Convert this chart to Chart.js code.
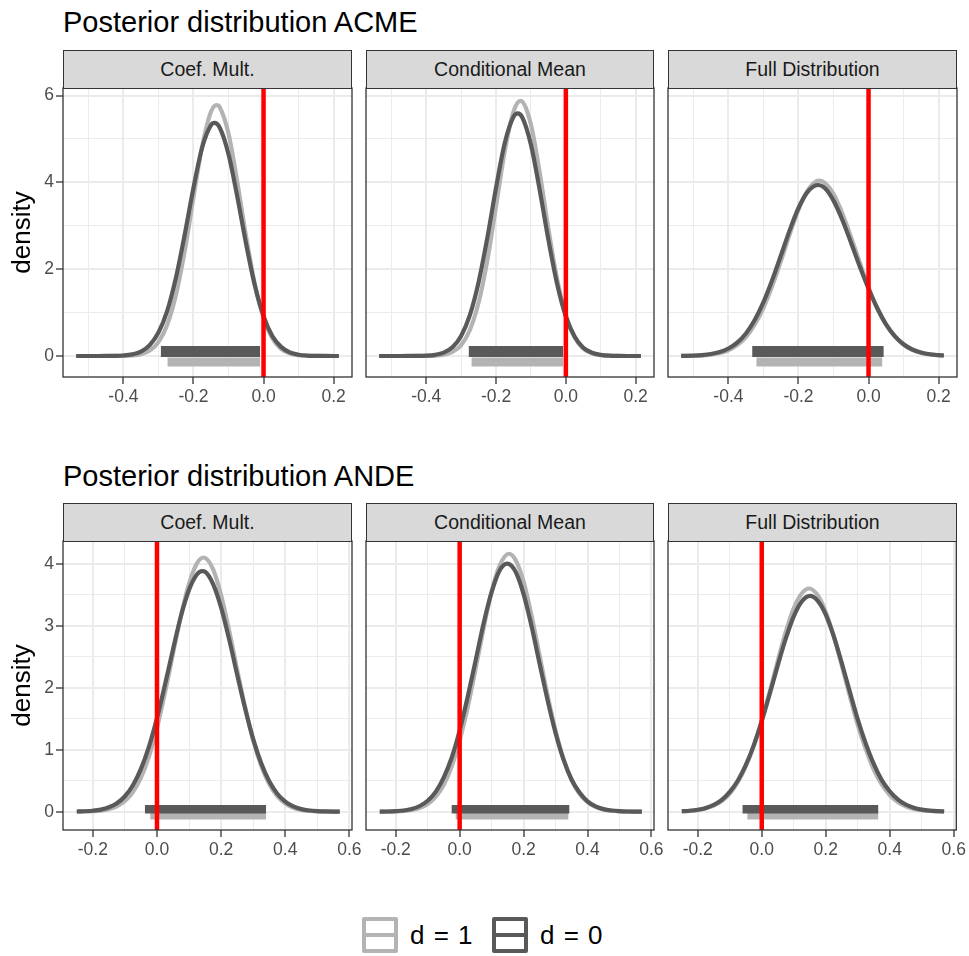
<!DOCTYPE html>
<html>
<head>
<meta charset="utf-8">
<script src="https://cdn.jsdelivr.net/npm/chart.js@4.4.1/dist/chart.umd.min.js"></script>
<style>
  html, body { margin: 0; padding: 0; background: #ffffff; }
  body { position: relative; width: 969px; height: 956px; overflow: hidden;
         font-family: 'Liberation Sans', Arial, Helvetica, sans-serif; }
  .title { position: absolute; left: 63px; font-size: 29px; line-height: 29px; color: #000; white-space: nowrap; }
  .strip { position: absolute; box-sizing: border-box; background: #d9d9d9; border: 1.3px solid #333333;
           color: #1a1a1a; font-size: 19.5px; display: flex; align-items: center; justify-content: center; white-space: nowrap; }
  canvas { position: absolute; }
  .key { position: absolute; box-sizing: border-box; width: 36px; height: 36px; border: 4px solid; border-radius: 2px; background: #fff; }
  .key .kl { position: absolute; left: 0; right: 0; top: 12px; height: 4px; }
  .lt { position: absolute; font-size: 26px; line-height: 36px; color: #000; white-space: nowrap; word-spacing: 2px; }
</style>
</head>
<body>
<script>
// ---------------- DATA ----------------
const facetLabels = ['Coef. Mult.', 'Conditional Mean', 'Full Distribution'];
const rowTitles = ['Posterior distribution ACME', 'Posterior distribution ANDE'];
const legendLabels = ['d = 1', 'd = 0'];
const refX = 0;

// density evaluation grids (x)
const acmeGrid = [-0.535,-0.5,-0.475,-0.45,-0.425,-0.4,-0.375,-0.35,-0.325,-0.3,-0.275,-0.25,-0.225,-0.2,-0.175,-0.15,-0.125,-0.1,-0.075,-0.05,-0.025,0,0.025,0.05,0.075,0.1,0.125,0.15,0.175,0.2,0.215];
const andeGrid = [-0.25,-0.225,-0.2,-0.175,-0.15,-0.125,-0.1,-0.075,-0.05,-0.025,0,0.025,0.05,0.075,0.1,0.125,0.15,0.175,0.2,0.225,0.25,0.275,0.3,0.325,0.35,0.375,0.4,0.425,0.45,0.475,0.5,0.525,0.55,0.57];

// ACME densities (d = 1 light, d = 0 dark)
const acmeCoefD1 = [0,0,0,0,0.001,0.003,0.013,0.043,0.125,0.32,0.72,1.41,2.42,3.66,4.84,5.63,5.73,5.12,4.01,2.76,1.66,0.88,0.41,0.165,0.059,0.018,0.005,0.001,0,0,0];
const acmeCoefD0 = [0,0,0,0.001,0.004,0.012,0.037,0.10,0.25,0.54,1.04,1.81,2.80,3.88,4.81,5.32,5.26,4.65,3.67,2.59,1.63,0.92,0.46,0.21,0.083,0.03,0.01,0.003,0.001,0,0];
const acmeCondD1 = [0,0,0,0,0.0005,0.002,0.009,0.03,0.094,0.25,0.60,1.23,2.20,3.45,4.72,5.63,5.86,5.33,4.23,2.93,1.77,0.94,0.43,0.17,0.061,0.019,0.005,0.001,0,0,0];
const acmeCondD0 = [0,0,0,0.0005,0.002,0.008,0.027,0.078,0.20,0.46,0.94,1.70,2.72,3.88,4.91,5.51,5.50,4.87,3.83,2.68,1.66,0.91,0.45,0.19,0.075,0.026,0.008,0.002,0,0,0];
const acmeFullD1 = [0.0015,0.006,0.014,0.032,0.067,0.133,0.25,0.435,0.72,1.11,1.61,2.19,2.81,3.37,3.80,4.02,3.99,3.74,3.29,2.74,2.15,1.58,1.10,0.72,0.45,0.26,0.14,0.07,0.035,0.016,0.01];
const acmeFullD0 = [0.003,0.009,0.021,0.045,0.091,0.173,0.31,0.52,0.83,1.24,1.75,2.32,2.90,3.41,3.77,3.93,3.87,3.58,3.14,2.61,2.06,1.55,1.10,0.73,0.46,0.27,0.15,0.08,0.04,0.02,0.012];
const acmePeakXD1 = [-0.134, -0.13, -0.14];
const acmePeakYD1 = [5.78, 5.88, 4.04];
const acmePeakXD0 = [-0.14, -0.138, -0.145];
const acmePeakYD0 = [5.37, 5.59, 3.94];

// ANDE densities
const andeCoefD1 = [0.001,0.003,0.008,0.018,0.041,0.087,0.172,0.318,0.55,0.89,1.35,1.92,2.55,3.17,3.68,4.01,4.09,3.91,3.49,2.92,2.29,1.68,1.15,0.74,0.445,0.25,0.132,0.065,0.03,0.013,0.005,0.002,0.001,0.0003];
const andeCoefD0 = [0.003,0.007,0.016,0.034,0.071,0.136,0.249,0.427,0.69,1.05,1.51,2.05,2.62,3.16,3.58,3.83,3.87,3.67,3.29,2.78,2.21,1.66,1.17,0.78,0.49,0.29,0.162,0.085,0.042,0.02,0.009,0.004,0.0014,0.0006];
const andeCondD1 = [0.0006,0.0017,0.0046,0.012,0.027,0.06,0.125,0.24,0.43,0.73,1.15,1.68,2.31,2.96,3.55,3.97,4.15,4.06,3.71,3.16,2.52,1.88,1.31,0.85,0.515,0.29,0.155,0.077,0.035,0.015,0.006,0.002,0.001,0.0003];
const andeCondD0 = [0.0013,0.0035,0.009,0.02,0.045,0.092,0.177,0.32,0.55,0.87,1.31,1.85,2.44,3.04,3.54,3.89,3.99,3.87,3.51,2.99,2.39,1.80,1.27,0.84,0.52,0.31,0.168,0.087,0.042,0.019,0.008,0.003,0.0013,0.0006];
const andeFullD1 = [0.006,0.012,0.026,0.051,0.097,0.17,0.29,0.475,0.73,1.06,1.47,1.94,2.43,2.90,3.28,3.52,3.59,3.49,3.22,2.83,2.36,1.87,1.40,1.01,0.68,0.44,0.27,0.158,0.088,0.046,0.023,0.011,0.005,0.0025];
const andeFullD0 = [0.008,0.016,0.032,0.061,0.11,0.19,0.32,0.50,0.75,1.07,1.46,1.90,2.36,2.79,3.15,3.39,3.47,3.40,3.18,2.83,2.40,1.94,1.49,1.10,0.77,0.51,0.33,0.20,0.116,0.064,0.034,0.017,0.008,0.004];
const andePeakXD1 = [0.145, 0.154, 0.148];
const andePeakYD1 = [4.10, 4.16, 3.60];
const andePeakXD0 = [0.141, 0.149, 0.151];
const andePeakYD0 = [3.88, 4.00, 3.48];

// credible intervals (lower / upper)
const acmeIntLoD1 = [-0.274, -0.270, -0.320];
const acmeIntHiD1 = [-0.010, -0.008, 0.039];
const acmeIntLoD0 = [-0.293, -0.278, -0.332];
const acmeIntHiD0 = [-0.010, -0.008, 0.043];
const andeIntLoD1 = [-0.021, -0.0125, -0.045];
const andeIntHiD1 = [0.340, 0.340, 0.364];
const andeIntLoD0 = [-0.0375, -0.025, -0.060];
const andeIntHiD0 = [0.340, 0.343, 0.364];
const acmeIntY = [-0.138, 0.104];   // [d=1, d=0] vertical position of interval bars
const andeIntY = [-0.061, 0.040];

// axes
const acmeXRange = [-0.5725, 0.2525];
const acmeYRange = [-0.484, 6.175];
const andeXRange = [-0.293, 0.608];
const andeYRange = [-0.295, 4.366];
const acmeXTicks = [-0.5,-0.4,-0.3,-0.2,-0.1,0,0.1,0.2];
const acmeXMajor = [-0.4,-0.2,0,0.2];
const acmeYTicks = [0,1,2,3,4,5,6];
const acmeYMajor = [0,2,4,6];
const andeXTicks = [-0.2,-0.1,0,0.1,0.2,0.3,0.4,0.5,0.6];
const andeXMajor = [-0.2,0,0.2,0.4,0.6];
const andeYTicks = [0,0.5,1,1.5,2,2.5,3,3.5,4];
const andeYMajor = [0,1,2,3,4];

// ---------------- STYLE / LAYOUT ----------------
const FONT = "'Liberation Sans', Arial, Helvetica, sans-serif";
const LIGHT = '#b3b3b3';
const DARK = '#595959';
const colLeft = [63, 366, 668];
const colRight = [352, 654, 957];
const rowPlotTop = [88, 541];
const rowStripTop = [50, 503];
const rowTitleTop = [7.5, 462];
const PAD_TOP = 14, X_AXIS_H = 33, PLOT_H = 289;

const panelBorder = {
  id: 'panelBorder',
  afterDraw(chart) {
    const { ctx, chartArea: a } = chart;
    ctx.save();
    ctx.strokeStyle = '#333333';
    ctx.lineWidth = 1.3;
    ctx.strokeRect(a.left, a.top, a.right - a.left, a.bottom - a.top);
    ctx.restore();
  }
};

// density points: grid values plus the peak; a grid point very close to the peak is replaced by it
function curvePoints(grid, ys, px, py) {
  const pts = [];
  grid.forEach((x, i) => { if (Math.abs(x - px) >= 0.006) pts.push({ x: x, y: ys[i] }); });
  pts.push({ x: px, y: py });
  pts.sort((a, b) => a.x - b.x);
  return pts;
}

function addDiv(cls, style, text) {
  const d = document.createElement('div');
  d.className = cls;
  Object.assign(d.style, style);
  if (text !== undefined) d.textContent = text;
  document.body.appendChild(d);
  return d;
}

function makePanel(row, col, p) {
  const leftMargin = col === 0 ? 63 : 20;
  const padR = col === 2 ? 12 : 20;
  const cLeft = colLeft[col] - leftMargin;
  const cW = leftMargin + (colRight[col] - colLeft[col]) + padR;
  const cTop = rowPlotTop[row] - PAD_TOP;
  const cH = PAD_TOP + PLOT_H + X_AXIS_H;
  const cv = document.createElement('canvas');
  cv.width = cW; cv.height = cH;
  cv.style.left = cLeft + 'px'; cv.style.top = cTop + 'px';
  cv.style.width = cW + 'px'; cv.style.height = cH + 'px';
  document.body.appendChild(cv);

  // strip
  addDiv('strip', {
    left: colLeft[col] + 'px', top: rowStripTop[row] + 'px',
    width: (colRight[col] - colLeft[col]) + 'px', height: (rowPlotTop[row] - rowStripTop[row] + 0.6) + 'px'
  }, facetLabels[col]);

  const mX = new Set(p.xMajor), mY = new Set(p.yMajor);
  const gridWidth = (set) => (c) => (c.tick && set.has(c.tick.value)) ? 2 : 1;
  const tickCol = (set) => (c) => (c.tick && set.has(c.tick.value)) ? '#333333' : 'rgba(0,0,0,0)';

  new Chart(cv, {
    type: 'line',
    data: {
      datasets: [
        { label: 'zero', data: [{ x: refX, y: p.yr[0] }, { x: refX, y: p.yr[1] }],
          borderColor: '#ff0000', borderWidth: 4.5, borderCapStyle: 'butt', order: 0 },
        { label: 'interval d = 0', data: [{ x: p.lo0, y: p.iy[1] }, { x: p.hi0, y: p.iy[1] }],
          borderColor: DARK, borderWidth: row === 0 ? 11 : 8.5, borderCapStyle: 'butt', order: 1 },
        { label: 'interval d = 1', data: [{ x: p.lo1, y: p.iy[0] }, { x: p.hi1, y: p.iy[0] }],
          borderColor: LIGHT, borderWidth: row === 0 ? 9 : 8, borderCapStyle: 'butt', order: 2 },
        { label: legendLabels[1], data: curvePoints(p.grid, p.d0, p.px0, p.py0),
          borderColor: DARK, borderWidth: 4.2, cubicInterpolationMode: 'monotone', order: 3 },
        { label: legendLabels[0], data: curvePoints(p.grid, p.d1, p.px1, p.py1),
          borderColor: LIGHT, borderWidth: 4.2, cubicInterpolationMode: 'monotone', order: 4 }
      ]
    },
    options: {
      responsive: false, animation: false, devicePixelRatio: 1,
      layout: { padding: { left: 0, right: padR, top: PAD_TOP, bottom: 0 } },
      plugins: { legend: { display: false }, tooltip: { enabled: false }, title: { display: false } },
      elements: { point: { radius: 0, hoverRadius: 0 }, line: { borderJoinStyle: 'round', fill: false } },
      scales: {
        x: {
          type: 'linear', min: p.xr[0], max: p.xr[1],
          afterBuildTicks: (s) => { s.ticks = p.xTicks.map(v => ({ value: v })); },
          afterFit: (s) => { s.height = X_AXIS_H; },
          ticks: { autoSkip: false, maxRotation: 0, minRotation: 0, color: '#4d4d4d', padding: 3,
                   font: { family: FONT, size: 17.5 },
                   callback: (v) => mX.has(v) ? v.toFixed(1) : '' },
          grid: { color: '#ebebeb', lineWidth: gridWidth(mX), tickColor: tickCol(mX),
                  tickLength: 7, tickWidth: 1.3, drawTicks: true },
          border: { display: false }
        },
        y: {
          type: 'linear', min: p.yr[0], max: p.yr[1],
          afterBuildTicks: (s) => { s.ticks = p.yTicks.map(v => ({ value: v })); },
          afterFit: (s) => { s.width = leftMargin; },
          ticks: { display: col === 0, autoSkip: false, color: '#4d4d4d', padding: 2,
                   font: { family: FONT, size: 17.5 },
                   callback: (v) => mY.has(v) ? String(v) : '' },
          grid: { color: '#ebebeb', lineWidth: gridWidth(mY), tickColor: tickCol(mY),
                  tickLength: 7, tickWidth: 1.3, drawTicks: col === 0 },
          border: { display: false },
          title: { display: col === 0, text: 'density', color: '#000000',
                   font: { family: FONT, size: 26 }, padding: { top: 7, bottom: 0 } }
        }
      }
    },
    plugins: [panelBorder]
  });
}

// titles
rowTitles.forEach((t, r) => addDiv('title', { top: rowTitleTop[r] + 'px' }, t));

const acmeD1 = [acmeCoefD1, acmeCondD1, acmeFullD1];
const acmeD0 = [acmeCoefD0, acmeCondD0, acmeFullD0];
const andeD1 = [andeCoefD1, andeCondD1, andeFullD1];
const andeD0 = [andeCoefD0, andeCondD0, andeFullD0];

for (let c = 0; c < 3; c++) {
  makePanel(0, c, {
    grid: acmeGrid, d1: acmeD1[c], d0: acmeD0[c],
    px1: acmePeakXD1[c], py1: acmePeakYD1[c], px0: acmePeakXD0[c], py0: acmePeakYD0[c],
    lo1: acmeIntLoD1[c], hi1: acmeIntHiD1[c], lo0: acmeIntLoD0[c], hi0: acmeIntHiD0[c], iy: acmeIntY,
    xr: acmeXRange, yr: acmeYRange, xTicks: acmeXTicks, xMajor: acmeXMajor, yTicks: acmeYTicks, yMajor: acmeYMajor
  });
  makePanel(1, c, {
    grid: andeGrid, d1: andeD1[c], d0: andeD0[c],
    px1: andePeakXD1[c], py1: andePeakYD1[c], px0: andePeakXD0[c], py0: andePeakYD0[c],
    lo1: andeIntLoD1[c], hi1: andeIntHiD1[c], lo0: andeIntLoD0[c], hi0: andeIntHiD0[c], iy: andeIntY,
    xr: andeXRange, yr: andeYRange, xTicks: andeXTicks, xMajor: andeXMajor, yTicks: andeYTicks, yMajor: andeYMajor
  });
}

// legend
const keyLeft = [362, 492];
const textLeft = [410, 540];
const keyColors = [LIGHT, DARK];
legendLabels.forEach((lab, i) => {
  const k = addDiv('key', { left: keyLeft[i] + 'px', top: '917px', borderColor: keyColors[i] });
  const ln = document.createElement('div');
  ln.className = 'kl';
  ln.style.background = keyColors[i];
  k.appendChild(ln);
  addDiv('lt', { left: textLeft[i] + 'px', top: '917px' }, lab);
});
</script>
</body>
</html>
